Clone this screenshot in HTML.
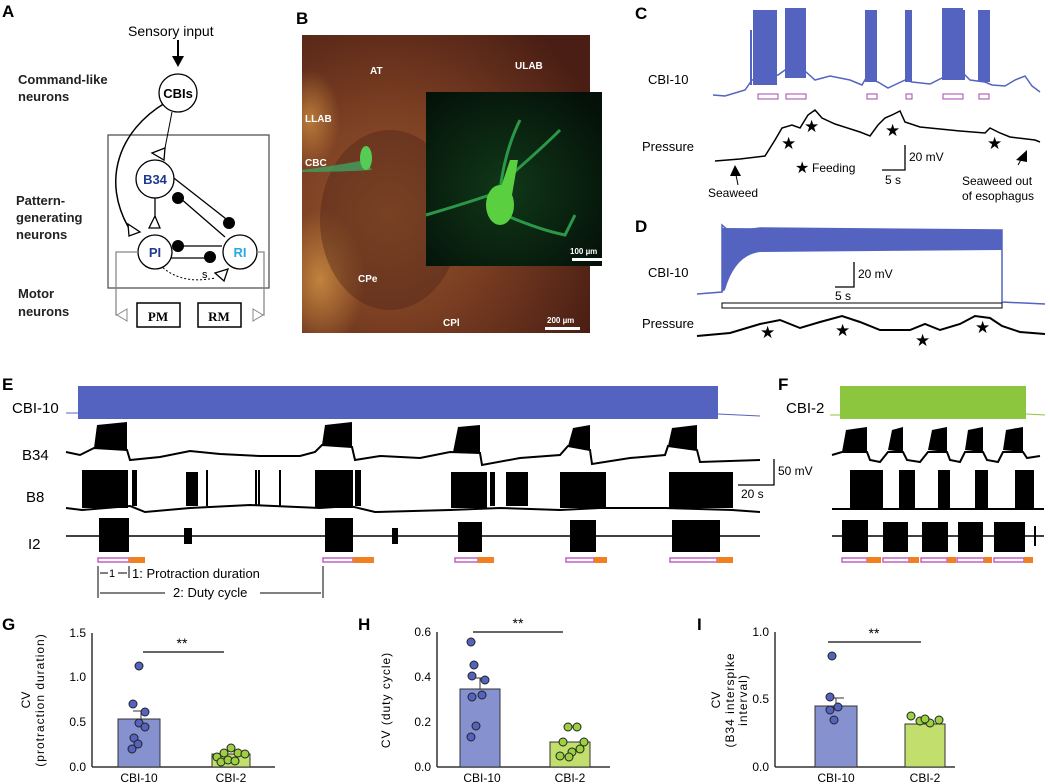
<!DOCTYPE html>
<html><head><meta charset="utf-8"><style>
body{margin:0;background:#fff;width:1050px;height:784px;overflow:hidden}
svg{display:block;font-family:"Liberation Sans",Arial,sans-serif}
.L{font-weight:bold;font-size:17px}
</style></head><body>
<svg width="1050" height="784" viewBox="0 0 1050 784">
<defs>
<radialGradient id="br" cx="0.3" cy="0.6" r="0.8"><stop offset="0" stop-color="#96562e"/><stop offset="0.45" stop-color="#7a3e22"/><stop offset="1" stop-color="#4a1e14"/></radialGradient>
<radialGradient id="gr" cx="0.45" cy="0.55" r="0.7"><stop offset="0" stop-color="#103818"/><stop offset="1" stop-color="#041008"/></radialGradient>
<radialGradient id="og" cx="0.5" cy="0.5" r="0.5"><stop offset="0" stop-color="#c98a40"/><stop offset="1" stop-color="#c98a40" stop-opacity="0"/></radialGradient>
<clipPath id="pc"><rect x="302" y="35" width="288" height="298"/></clipPath>
</defs>
<text class="L" x="2" y="17">A</text><text class="L" x="296" y="24">B</text><text class="L" x="635" y="19">C</text>
<text class="L" x="635" y="232">D</text><text class="L" x="2" y="390">E</text><text class="L" x="778" y="390">F</text>
<text class="L" x="2" y="630">G</text><text class="L" x="358" y="630">H</text><text class="L" x="697" y="630">I</text>
<!-- Panel A -->
<g font-size="13" font-weight="bold" fill="#222">
<text x="18" y="84">Command-like</text><text x="18" y="101">neurons</text>
<text x="16" y="205">Pattern-</text><text x="16" y="222">generating</text><text x="16" y="239">neurons</text>
<text x="18" y="298">Motor</text><text x="18" y="316">neurons</text></g>
<text x="128" y="36" font-size="14">Sensory input</text>
<line x1="178" y1="40" x2="178" y2="58" stroke="#000" stroke-width="2"/><polygon points="172,56 184,56 178,67" fill="#000"/>
<rect x="108" y="135" width="161" height="153" fill="none" stroke="#555" stroke-width="1.3"/>
<path d="M165 103 C120 130 100 180 130 230" fill="none" stroke="#000" stroke-width="1.5"/>
<polygon points="128,224 140,232 129,236" fill="#fff" stroke="#000" stroke-width="1.3"/>
<line x1="172" y1="112" x2="165" y2="148" stroke="#000"/>
<polygon points="152,153 165,148 164,160" fill="#fff" stroke="#000" stroke-width="1.3"/>
<line x1="155" y1="198" x2="155" y2="218" stroke="#000" stroke-width="1.3"/>
<polygon points="149,228 160,228 155,216" fill="#fff" stroke="#000" stroke-width="1.3"/>
<line x1="170" y1="175" x2="230" y2="222" stroke="#000" stroke-width="1.3"/><circle cx="229" cy="223" r="6"/>
<line x1="180" y1="198" x2="225" y2="237" stroke="#000" stroke-width="1.3"/><circle cx="178" cy="198" r="6"/>
<line x1="175" y1="246" x2="222" y2="246" stroke="#000" stroke-width="1.3"/><circle cx="178" cy="246" r="6"/>
<line x1="165" y1="258" x2="205" y2="258" stroke="#000" stroke-width="1.3"/><circle cx="210" cy="257" r="6"/>
<path d="M160 265 Q180 285 215 278" fill="none" stroke="#000" stroke-dasharray="2,2"/>
<polygon points="215,273 228,269 224,281" fill="#fff" stroke="#000" stroke-width="1.3"/>
<text x="202" y="278" font-size="11">s</text>
<circle cx="178" cy="93" r="19" fill="#fff" stroke="#000" stroke-width="1.3"/><text x="178" y="98" text-anchor="middle" font-size="13" font-weight="bold">CBIs</text>
<circle cx="155" cy="179" r="19" fill="#fff" stroke="#000" stroke-width="1.3"/><text x="155" y="184" text-anchor="middle" font-size="13" font-weight="bold" fill="#1e3a8c">B34</text>
<circle cx="155" cy="252" r="17" fill="#fff" stroke="#000" stroke-width="1.3"/><text x="155" y="257" text-anchor="middle" font-size="13" font-weight="bold" fill="#1e3a8c">PI</text>
<circle cx="240" cy="252" r="17" fill="#fff" stroke="#000" stroke-width="1.3"/><text x="240" y="257" text-anchor="middle" font-size="13" font-weight="bold" fill="#2aa8e0">RI</text>
<polyline points="138,252 116,252 116,315 125,315" fill="none" stroke="#888" stroke-width="1.3"/>
<polyline points="257,252 264,252 264,315 255,315" fill="none" stroke="#888" stroke-width="1.3"/>
<polygon points="117,315 127,309 127,321" fill="#fff" stroke="#888"/><polygon points="263,315 253,309 253,321" fill="#fff" stroke="#888"/>
<rect x="137" y="303" width="43" height="24" fill="#fff" stroke="#000" stroke-width="1.5"/><text x="158" y="321" text-anchor="middle" font-family="Liberation Serif" font-weight="bold" font-size="13">PM</text>
<rect x="198" y="303" width="43" height="24" fill="#fff" stroke="#000" stroke-width="1.5"/><text x="219" y="321" text-anchor="middle" font-family="Liberation Serif" font-weight="bold" font-size="13">RM</text>
<!-- Panel B -->
<g clip-path="url(#pc)">
<rect x="302" y="35" width="288" height="298" fill="url(#br)"/>
<ellipse cx="310" cy="120" rx="30" ry="50" fill="url(#og)" opacity="0.8"/>
<ellipse cx="320" cy="280" rx="45" ry="70" fill="url(#og)" opacity="0.9"/>
<ellipse cx="390" cy="220" rx="70" ry="90" fill="#4a2216" opacity="0.4"/>
</g>
<rect x="426" y="92" width="176" height="174" fill="url(#gr)"/>
<path d="M302 170 Q340 165 365 160 L372 170 Q340 172 302 172 Z" fill="#3fa060" opacity="0.8"/>
<ellipse cx="366" cy="158" rx="6" ry="12" fill="#55cc55"/>
<path d="M426 215 Q460 205 490 195 M500 190 Q505 150 520 120 M505 180 Q540 150 560 130 M505 215 Q540 230 565 235 Q570 225 575 215" stroke="#2a9848" stroke-width="3" fill="none"/>
<ellipse cx="500" cy="205" rx="14" ry="20" fill="#5ad040"/>
<path d="M500 190 L510 160 L518 160 L512 195 Z" fill="#5ad040"/>
<g fill="#fff" font-size="10" font-weight="bold">
<text x="370" y="74">AT</text><text x="515" y="69">ULAB</text><text x="305" y="122">LLAB</text><text x="305" y="166">CBC</text><text x="358" y="282">CPe</text><text x="443" y="326">CPl</text>
<text x="570" y="254" font-size="8">100 µm</text><rect x="572" y="258" width="30" height="3"/>
<text x="547" y="323" font-size="8">200 µm</text><rect x="545" y="327" width="35" height="3"/></g>
<!-- Panel C -->
<text x="648" y="84" font-size="13">CBI-10</text>
<path d="M713 95 L725 96 L745 90 L752 80 L778 75 L785 70 L806 72 L815 80 L830 76 L850 80 L862 85 L866 78 L878 82 L888 88 L905 80 L912 82 L930 84 L942 78 L965 75 L970 80 L985 82 L992 85 L1005 86 L1015 80 L1025 76 L1032 86 L1040 92" fill="none" stroke="#5563c0" stroke-width="1.5"/>
<g fill="#5563c0"><rect x="753" y="10" width="24" height="75"/><rect x="785" y="8" width="21" height="70"/><rect x="865" y="10" width="12" height="72"/><rect x="905" y="10" width="7" height="72"/><rect x="942" y="8" width="21" height="72"/><rect x="978" y="10" width="12" height="72"/><rect x="750" y="30" width="2" height="55"/><rect x="960" y="10" width="5" height="70"/></g>
<g fill="none" stroke="#a24aa8"><rect x="758" y="94" width="20" height="5"/><rect x="786" y="94" width="20" height="5"/><rect x="867" y="94" width="10" height="5"/><rect x="906" y="94" width="6" height="5"/><rect x="943" y="94" width="20" height="5"/><rect x="979" y="94" width="10" height="5"/></g>
<text x="642" y="151" font-size="13">Pressure</text>
<path d="M715 161 L740 159 L765 156 L775 140 L782 128 L792 125 L800 128 L808 115 L815 110 L822 118 L835 124 L860 132 L870 136 L878 125 L885 118 L892 115 L900 111 L905 122 L920 127 L960 131 L985 133 L990 128 L1000 133 L1010 137 L1035 140 L1040 142" fill="none" stroke="#000" stroke-width="1.5"/>
<g font-size="17"><text x="781" y="149">★</text><text x="804" y="132">★</text><text x="885" y="136">★</text><text x="987" y="149">★</text></g>
<path d="M905 145 V170 H882" fill="none" stroke="#000" stroke-width="1.3"/><text x="909" y="161" font-size="12">20 mV</text><text x="885" y="184" font-size="12">5 s</text>
<text x="795" y="173" font-size="16">★</text><text x="812" y="172" font-size="12">Feeding</text>
<text x="708" y="197" font-size="12">Seaweed</text><line x1="738" y1="185" x2="736" y2="175" stroke="#000"/><polygon points="730,176 741,176 735,165"/>
<text x="962" y="185" font-size="12">Seaweed out</text><text x="962" y="200" font-size="12">of esophagus</text>
<line x1="1018" y1="165" x2="1022" y2="158" stroke="#000"/><polygon points="1016,160 1027,162 1027,150"/>
<!-- Panel D -->
<text x="648" y="277" font-size="13">CBI-10</text>
<path d="M697 294 L722 292 L722 225 L730 232 L760 228 L1002 230 L1002 302 L1045 304" fill="none" stroke="#5563c0" stroke-width="1.5"/>
<path d="M722 292 L722 228 L1002 230 L1002 250 L760 252 Q735 255 725 290 Z" fill="#5563c0"/>
<rect x="722" y="303" width="280" height="5" fill="#fff" stroke="#000"/>
<path d="M854 262 V287 H835" fill="none" stroke="#000" stroke-width="1.3"/><text x="858" y="278" font-size="12">20 mV</text><text x="835" y="300" font-size="12">5 s</text>
<text x="642" y="328" font-size="13">Pressure</text>
<path d="M697 336 L730 333 L760 324 L780 320 L800 328 L820 322 L842 316 L860 322 L880 330 L910 330 L925 324 L940 330 L960 324 L975 316 L990 318 L1002 326 L1020 332 L1045 334" fill="none" stroke="#000" stroke-width="2"/>
<g font-size="17"><text x="760" y="338">★</text><text x="835" y="336">★</text><text x="915" y="346">★</text><text x="975" y="333">★</text></g>
<!-- Panel E -->
<text x="12" y="413" font-size="15">CBI-10</text>
<line x1="66" y1="413" x2="80" y2="413" stroke="#5563c0"/><line x1="718" y1="414" x2="760" y2="416" stroke="#5563c0"/>
<rect x="78" y="386" width="640" height="33" fill="#5563c0"/>
<text x="22" y="460" font-size="15">B34</text>
<path d="M66 452 L80 455 L94 448 L127 450 L130 460 L160 457 L190 451 L220 454 L260 456 L300 456 L315 452 L322 445 L352 447 L355 460 L380 456 L420 458 L450 452 L480 453 L482 465 L520 458 L560 455 L568 446 L590 450 L592 464 L630 458 L665 455 L668 446 L697 450 L700 462 L760 460" fill="none" stroke="#000" stroke-width="2"/>
<g fill="#000"><polygon points="94,448 97,425 127,422 127,450"/><polygon points="322,445 325,425 352,422 352,447"/><polygon points="453,452 458,427 480,425 480,453"/><polygon points="568,446 573,428 590,425 590,450"/><polygon points="668,446 672,428 697,425 697,450"/></g>
<text x="26" y="502" font-size="15">B8</text>
<path d="M66 508 L82 510 L130 506 L145 512 L190 508 L250 505 L320 508 L350 506 L375 512 L450 510 L500 508 L560 510 L600 508 L665 508 L732 510 L760 512" fill="none" stroke="#000" stroke-width="2"/>
<g fill="#000"><rect x="82" y="470" width="46" height="38"/><rect x="132" y="470" width="5" height="36"/><rect x="186" y="472" width="12" height="34"/><rect x="206" y="470" width="2" height="36"/><rect x="255" y="470" width="2" height="36"/><rect x="258" y="470" width="2" height="36"/><rect x="279" y="470" width="2" height="36"/><rect x="315" y="470" width="38" height="38"/><rect x="355" y="470" width="6" height="36"/><rect x="451" y="472" width="36" height="36"/><rect x="490" y="472" width="5" height="34"/><rect x="506" y="472" width="22" height="34"/><rect x="560" y="472" width="46" height="36"/><rect x="669" y="472" width="64" height="36"/></g>
<text x="28" y="549" font-size="15">I2</text>
<line x1="66" y1="536" x2="760" y2="536" stroke="#000" stroke-width="1.5"/>
<g fill="#000"><rect x="99" y="518" width="30" height="34"/><rect x="325" y="518" width="28" height="34"/><rect x="458" y="522" width="24" height="30"/><rect x="570" y="520" width="26" height="32"/><rect x="672" y="520" width="48" height="32"/><rect x="184" y="528" width="8" height="16"/><rect x="392" y="528" width="6" height="16"/></g>
<g stroke-width="1.5"><rect x="98" y="558" width="31" height="4" fill="#fff" stroke="#c060c0"/><rect x="129" y="557" width="16" height="6" fill="#f08020"/>
<rect x="323" y="558" width="30" height="4" fill="#fff" stroke="#c060c0"/><rect x="353" y="557" width="21" height="6" fill="#f08020"/>
<rect x="455" y="558" width="23" height="4" fill="#fff" stroke="#c060c0"/><rect x="478" y="557" width="16" height="6" fill="#f08020"/>
<rect x="566" y="558" width="28" height="4" fill="#fff" stroke="#c060c0"/><rect x="594" y="557" width="13" height="6" fill="#f08020"/>
<rect x="670" y="558" width="47" height="4" fill="#fff" stroke="#c060c0"/><rect x="717" y="557" width="16" height="6" fill="#f08020"/></g>
<g stroke="#000" fill="none"><line x1="98" y1="566" x2="98" y2="598"/><line x1="129" y1="566" x2="129" y2="578"/><line x1="323" y1="566" x2="323" y2="598"/>
<line x1="100" y1="573" x2="108" y2="573"/><line x1="118" y1="573" x2="127" y2="573"/><line x1="100" y1="593" x2="165" y2="593"/><line x1="260" y1="593" x2="321" y2="593"/></g>
<text x="109" y="577" font-size="11">1</text><text x="132" y="578" font-size="13">1: Protraction duration</text><text x="173" y="597" font-size="13">2: Duty cycle</text>
<path d="M774 459 V485 H738" stroke="#000" fill="none" stroke-width="1.3"/><text x="778" y="475" font-size="12">50 mV</text><text x="741" y="498" font-size="12">20 s</text>
<!-- Panel F -->
<text x="786" y="413" font-size="15">CBI-2</text>
<line x1="830" y1="415" x2="840" y2="415" stroke="#8cc63f"/><line x1="1026" y1="414" x2="1045" y2="415" stroke="#8cc63f"/>
<rect x="840" y="386" width="186" height="33" fill="#8cc63f"/>
<path d="M832 455 L842 452 L867 452 L870 460 L880 462 L888 452 L903 452 L907 460 L920 462 L928 452 L947 452 L950 460 L960 462 L965 452 L983 452 L987 460 L998 462 L1003 452 L1023 452 L1027 458 L1040 456" fill="none" stroke="#000" stroke-width="2"/>
<g fill="#000"><polygon points="842,452 846,430 867,427 867,452"/><polygon points="888,450 892,430 903,427 903,452"/><polygon points="928,450 932,430 947,427 947,452"/><polygon points="965,450 968,430 983,427 983,452"/><polygon points="1003,450 1006,430 1023,427 1023,452"/>
<rect x="850" y="470" width="33" height="38"/><rect x="899" y="470" width="16" height="38"/><rect x="938" y="470" width="12" height="38"/><rect x="975" y="470" width="13" height="38"/><rect x="1015" y="470" width="19" height="38"/></g>
<path d="M832 509 H1044" stroke="#000" stroke-width="2"/>
<line x1="832" y1="536" x2="1044" y2="536" stroke="#000" stroke-width="1.5"/>
<g fill="#000"><rect x="842" y="520" width="26" height="32"/><rect x="883" y="522" width="25" height="30"/><rect x="922" y="522" width="26" height="30"/><rect x="958" y="522" width="25" height="30"/><rect x="994" y="522" width="31" height="30"/><rect x="1034" y="526" width="2" height="20"/></g>
<g stroke-width="1.5"><rect x="842" y="558" width="25" height="4" fill="#fff" stroke="#c060c0"/><rect x="867" y="557" width="14" height="6" fill="#f08020"/>
<rect x="883" y="558" width="26" height="4" fill="#fff" stroke="#c060c0"/><rect x="909" y="557" width="10" height="6" fill="#f08020"/>
<rect x="921" y="558" width="26" height="4" fill="#fff" stroke="#c060c0"/><rect x="947" y="557" width="9" height="6" fill="#f08020"/>
<rect x="957" y="558" width="27" height="4" fill="#fff" stroke="#c060c0"/><rect x="984" y="557" width="8" height="6" fill="#f08020"/>
<rect x="994" y="558" width="30" height="4" fill="#fff" stroke="#c060c0"/><rect x="1024" y="557" width="9" height="6" fill="#f08020"/></g>
<!-- Graphs -->
<g font-size="12">
<line x1="92" y1="633" x2="92" y2="767" stroke="#333" stroke-width="1.5"/><line x1="92" y1="767" x2="275" y2="767" stroke="#333" stroke-width="1.5"/>
<text x="86" y="637" text-anchor="end">1.5</text><text x="86" y="681" text-anchor="end">1.0</text><text x="86" y="726" text-anchor="end">0.5</text><text x="86" y="771" text-anchor="end">0.0</text>
<text transform="translate(30,700) rotate(-90)" text-anchor="middle">CV</text><text transform="translate(44,700) rotate(-90)" text-anchor="middle" letter-spacing="1">(protraction duration)</text>
<rect x="118" y="719" width="42" height="48" fill="#8592cf" stroke="#333"/><rect x="212" y="754" width="38" height="13" fill="#c2df6e" stroke="#333"/>
<line x1="141" y1="711" x2="141" y2="719" stroke="#333"/><line x1="133" y1="711" x2="149" y2="711" stroke="#333"/>
<line x1="143" y1="652" x2="224" y2="652" stroke="#333" stroke-width="1.5"/><text x="182" y="648" text-anchor="middle" font-size="14">**</text>
<g fill="#5563c0" stroke="#222"><circle cx="139" cy="666" r="4"/><circle cx="133" cy="704" r="4"/><circle cx="145" cy="712" r="4"/><circle cx="139" cy="723" r="4"/><circle cx="134" cy="738" r="4"/><circle cx="138" cy="744" r="4"/><circle cx="132" cy="749" r="4"/><circle cx="145" cy="727" r="4"/></g>
<g fill="#9cd040" stroke="#222"><circle cx="217" cy="757" r="4"/><circle cx="224" cy="753" r="4"/><circle cx="231" cy="748" r="4"/><circle cx="238" cy="753" r="4"/><circle cx="245" cy="754" r="4"/><circle cx="221" cy="762" r="4"/><circle cx="228" cy="760" r="4"/><circle cx="235" cy="761" r="4"/></g>
<text x="139" y="782" text-anchor="middle">CBI-10</text><text x="231" y="782" text-anchor="middle">CBI-2</text>
<line x1="437" y1="632" x2="437" y2="767" stroke="#333" stroke-width="1.5"/><line x1="437" y1="767" x2="610" y2="767" stroke="#333" stroke-width="1.5"/>
<text x="431" y="636" text-anchor="end">0.6</text><text x="431" y="681" text-anchor="end">0.4</text><text x="431" y="726" text-anchor="end">0.2</text><text x="431" y="771" text-anchor="end">0.0</text>
<text transform="translate(390,700) rotate(-90)" text-anchor="middle" letter-spacing="1">CV (duty cycle)</text>
<rect x="460" y="689" width="40" height="78" fill="#8592cf" stroke="#333"/><rect x="550" y="742" width="40" height="25" fill="#c2df6e" stroke="#333"/>
<line x1="480" y1="678" x2="480" y2="689" stroke="#333"/><line x1="472" y1="678" x2="488" y2="678" stroke="#333"/>
<line x1="473" y1="632" x2="563" y2="632" stroke="#333" stroke-width="1.5"/><text x="518" y="628" text-anchor="middle" font-size="14">**</text>
<g fill="#5563c0" stroke="#222"><circle cx="471" cy="642" r="4"/><circle cx="474" cy="665" r="4"/><circle cx="472" cy="676" r="4"/><circle cx="485" cy="680" r="4"/><circle cx="482" cy="695" r="4"/><circle cx="472" cy="697" r="4"/><circle cx="476" cy="726" r="4"/><circle cx="471" cy="737" r="4"/></g>
<g fill="#9cd040" stroke="#222"><circle cx="568" cy="727" r="4"/><circle cx="577" cy="727" r="4"/><circle cx="563" cy="742" r="4"/><circle cx="572" cy="752" r="4"/><circle cx="580" cy="749" r="4"/><circle cx="560" cy="756" r="4"/><circle cx="569" cy="757" r="4"/><circle cx="584" cy="742" r="4"/></g>
<text x="482" y="782" text-anchor="middle">CBI-10</text><text x="570" y="782" text-anchor="middle">CBI-2</text>
<line x1="775" y1="632" x2="775" y2="767" stroke="#333" stroke-width="1.5"/><line x1="775" y1="767" x2="955" y2="767" stroke="#333" stroke-width="1.5"/>
<text x="769" y="636" text-anchor="end">1.0</text><text x="769" y="703" text-anchor="end">0.5</text><text x="769" y="771" text-anchor="end">0.0</text>
<text transform="translate(720,700) rotate(-90)" text-anchor="middle">CV</text><text transform="translate(734,700) rotate(-90)" text-anchor="middle" letter-spacing="1">(B34 interspike</text><text transform="translate(747,700) rotate(-90)" text-anchor="middle" letter-spacing="1">interval)</text>
<rect x="815" y="706" width="42" height="61" fill="#8592cf" stroke="#333"/><rect x="905" y="724" width="40" height="43" fill="#c2df6e" stroke="#333"/>
<line x1="836" y1="698" x2="836" y2="706" stroke="#333"/><line x1="828" y1="698" x2="844" y2="698" stroke="#333"/>
<line x1="828" y1="642" x2="921" y2="642" stroke="#333" stroke-width="1.5"/><text x="874" y="638" text-anchor="middle" font-size="14">**</text>
<g fill="#5563c0" stroke="#222"><circle cx="832" cy="656" r="4"/><circle cx="830" cy="697" r="4"/><circle cx="838" cy="707" r="4"/><circle cx="830" cy="710" r="4"/><circle cx="834" cy="720" r="4"/></g>
<g fill="#9cd040" stroke="#222"><circle cx="911" cy="716" r="4"/><circle cx="920" cy="721" r="4"/><circle cx="930" cy="723" r="4"/><circle cx="939" cy="720" r="4"/><circle cx="925" cy="719" r="4"/></g>
<text x="836" y="782" text-anchor="middle">CBI-10</text><text x="925" y="782" text-anchor="middle">CBI-2</text>
</g>
</svg>
</body></html>
